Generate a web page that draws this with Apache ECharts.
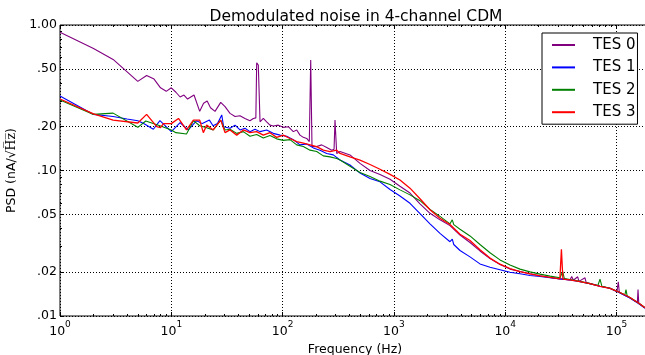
<!DOCTYPE html>
<html>
<head>
<meta charset="utf-8">
<title>Demodulated noise in 4-channel CDM</title>
<style>
  html, body { margin: 0; padding: 0; background: #fff; }
  #chart { width: 645px; height: 355px; }
</style>
<script src="https://cdn.jsdelivr.net/npm/echarts@6.0.0/dist/echarts.min.js"></script>
</head>
<body>
<div id="chart"></div>
<script>
// [frequency Hz, PSD nA/rtHz]
const tes0 = [
  [1, 0.89], [2, 0.69], [3, 0.58], [5, 0.41], [6, 0.45], [7, 0.425], [8, 0.37], [9, 0.35], [10, 0.37],
  [11, 0.345], [12, 0.32], [13, 0.33], [14, 0.31], [16, 0.33], [18, 0.255], [19.5, 0.29], [21, 0.3],
  [22.5, 0.27], [24.7, 0.255], [27.8, 0.294], [30.4, 0.275], [33.7, 0.247], [37.4, 0.235], [41.4, 0.238],
  [45.9, 0.228], [50.9, 0.22], [54.6, 0.228], [57.5, 0.23], [58.5, 0.55], [60.5, 0.53], [62.7, 0.216],
  [67.1, 0.228], [71.9, 0.216], [77, 0.205], [82.5, 0.202], [91.5, 0.205], [101.5, 0.198], [112.5, 0.2],
  [124.8, 0.185], [133.9, 0.19], [143.3, 0.175], [153.5, 0.169], [164.7, 0.166], [173.8, 0.158],
  [178.9, 0.575], [183.7, 0.146], [202.5, 0.146], [224.6, 0.15], [249, 0.144], [276.3, 0.138], [290, 0.14],
  [295.7, 0.222], [306.3, 0.131], [328, 0.135], [403, 0.128], [496, 0.112], [610, 0.1], [750, 0.094],
  [923, 0.087], [1134, 0.078], [1395, 0.07], [1716, 0.059], [2110, 0.0508], [2596, 0.0458], [3192, 0.0418],
  [3926, 0.036], [4828, 0.032], [5937, 0.028], [7302, 0.0248], [8981, 0.0226], [11045, 0.021],
  [13584, 0.0202], [16706, 0.0195], [20546, 0.0189], [25268, 0.0184], [31075, 0.018], [38218, 0.0177],
  [39580, 0.0187], [41000, 0.0176], [44806, 0.0186], [46000, 0.0173], [52124, 0.0183], [53500, 0.0169],
  [57800, 0.0167], [71100, 0.016], [87400, 0.0155], [101000, 0.0147], [103800, 0.0172], [106000, 0.0145],
  [132200, 0.0133], [154000, 0.0124], [156100, 0.0152], [158500, 0.0122], [180400, 0.0114]
];
const tes1 = [
  [1, 0.325], [2, 0.243], [3, 0.235], [4, 0.226], [5, 0.22], [5.6, 0.211], [6.9, 0.192], [7.9, 0.22],
  [10, 0.185], [12, 0.213], [14.2, 0.19], [16.9, 0.22], [19, 0.21], [22, 0.222], [23.7, 0.203], [26, 0.21],
  [28.4, 0.241], [29.5, 0.2], [33.7, 0.195], [37.4, 0.205], [41.4, 0.19], [45.9, 0.195], [50.9, 0.185],
  [56.5, 0.192], [62.7, 0.185], [71.9, 0.19], [82.5, 0.18], [94.8, 0.175], [108.8, 0.172], [124.8, 0.163],
  [143.3, 0.15], [164.7, 0.152], [188.7, 0.143], [216.8, 0.138], [249, 0.131], [285.5, 0.128], [328, 0.118],
  [403, 0.109], [496, 0.096], [610, 0.088], [750, 0.0836], [923, 0.074], [1134, 0.0668], [1395, 0.0595],
  [1716, 0.0505], [2110, 0.043], [2596, 0.037], [3192, 0.0324], [3347, 0.0338], [3450, 0.031],
  [3926, 0.0282], [4828, 0.0255], [5937, 0.0228], [7302, 0.0216], [8981, 0.0208], [11045, 0.02],
  [13584, 0.0195], [16706, 0.019], [20546, 0.0187], [25268, 0.0183], [31075, 0.018], [38218, 0.0177],
  [46990, 0.0172], [57800, 0.0167], [71100, 0.016], [87400, 0.0155], [107500, 0.0144], [132200, 0.0133],
  [162600, 0.012], [180400, 0.0113]
];
const tes2 = [
  [1, 0.305], [2, 0.243], [3, 0.248], [5, 0.198], [5.9, 0.219], [7.9, 0.203], [10, 0.19], [11, 0.182],
  [13.7, 0.178], [15.8, 0.22], [18, 0.203], [20.8, 0.197], [23.8, 0.19], [27.8, 0.222], [30.4, 0.19],
  [33.7, 0.192], [38.7, 0.18], [44.4, 0.185], [50.9, 0.172], [58.5, 0.177], [67.1, 0.167], [77, 0.174],
  [88.5, 0.165], [101.5, 0.161], [116.6, 0.163], [133.9, 0.15], [153.5, 0.146], [176.3, 0.138],
  [202.5, 0.135], [232.1, 0.126], [266.7, 0.124], [306.3, 0.121], [328, 0.118], [403, 0.107], [496, 0.097],
  [610, 0.091], [750, 0.0845], [923, 0.08], [1134, 0.0736], [1395, 0.068], [1716, 0.062], [2110, 0.054],
  [2596, 0.0484], [3192, 0.043], [3347, 0.0458], [3450, 0.0425], [3926, 0.0395], [4828, 0.0355],
  [5937, 0.031], [7302, 0.0272], [8981, 0.0243], [11045, 0.0224], [13584, 0.021], [16706, 0.0201],
  [20546, 0.0194], [25268, 0.0188], [31075, 0.0183], [32860, 0.0202], [34000, 0.0181], [38218, 0.0178],
  [46990, 0.0173], [57800, 0.0167], [68000, 0.0162], [71100, 0.0179], [74000, 0.016], [87400, 0.0155],
  [107500, 0.0145], [119000, 0.014], [121700, 0.0152], [124500, 0.0138], [132200, 0.0134],
  [162600, 0.0121], [180400, 0.0114]
];
const tes3 = [
  [1, 0.31], [2, 0.245], [3, 0.222], [5, 0.212], [6, 0.243], [7.4, 0.2], [8, 0.197], [8.5, 0.21], [10, 0.21],
  [11.6, 0.228], [13.7, 0.19], [15.8, 0.222], [18, 0.222], [19.4, 0.182], [20.8, 0.205], [23.8, 0.19],
  [27.8, 0.222], [30.4, 0.182], [33.7, 0.19], [38.7, 0.175], [44.4, 0.19], [50.9, 0.182], [58.5, 0.185],
  [67.1, 0.175], [77, 0.182], [88.5, 0.169], [101.5, 0.175], [116.6, 0.166], [133.9, 0.158], [153.5, 0.154],
  [176.3, 0.15], [202.5, 0.146], [232.1, 0.138], [266.7, 0.135], [306.3, 0.138], [328, 0.131], [403, 0.124],
  [496, 0.118], [610, 0.11], [750, 0.102], [923, 0.094], [1134, 0.086], [1395, 0.0756], [1716, 0.064],
  [2110, 0.0537], [2596, 0.047], [3192, 0.0425], [3926, 0.0365], [4828, 0.033], [5937, 0.0285],
  [7302, 0.025], [8981, 0.0227], [11045, 0.0212], [13584, 0.0202], [16706, 0.0195], [20546, 0.0189],
  [25268, 0.0184], [31000, 0.018], [32000, 0.0287], [33000, 0.0179], [38218, 0.0177], [46990, 0.0172],
  [57800, 0.0167], [71100, 0.016], [87400, 0.0155], [107500, 0.0145], [132200, 0.0134], [162600, 0.0121],
  [180400, 0.0114]
];

const names = ['TES 0', 'TES 1', 'TES 2', 'TES 3'];
const colors = ['#800080', '#0000ff', '#008000', '#ff0000'];

const xMajor = [1, 10, 100, 1000, 10000, 100000];
const xMinor = [];
xMajor.forEach((d) => [2, 3, 4, 5, 6, 7, 8, 9].forEach((m) => xMinor.push(d * m)));
const yMajor = [0.01, 0.02, 0.05, 0.1, 0.2, 0.5, 1];
const yMinor = [0.03, 0.04, 0.06, 0.07, 0.08, 0.09, 0.3, 0.4, 0.6, 0.7, 0.8, 0.9];

const font = 'DejaVu Sans';
const black = '#000';

function tickStyle(ticks, length) {
  return {show: true, inside: true, length, customValues: ticks, lineStyle: {color: black, width: 1}};
}

function xAxis(position, ticks, length, main) {
  return {
    type: 'log',
    logBase: 10,
    min: 1,
    max: 200000,
    position,
    axisLine: {show: false, onZero: false},
    axisTick: tickStyle(ticks, length),
    minorTick: {show: false},
    axisLabel: main
      ? {
          customValues: xMajor,
          margin: 4,
          formatter: (v) => '{b|10}{s|' + Math.round(Math.log10(v)) + '}',
          rich: {
            b: {fontFamily: font, fontSize: 12.5, color: black, lineHeight: 18, verticalAlign: 'bottom'},
            s: {fontFamily: font, fontSize: 9, color: black, lineHeight: 10, verticalAlign: 'top'},
          },
        }
      : {show: false},
    splitLine: main ? {show: true, lineStyle: {color: black, width: 1, type: [1, 2]}} : {show: false},
    name: main ? 'Frequency (Hz)' : '',
    nameLocation: 'middle',
    nameGap: 22,
    nameTextStyle: {fontFamily: font, fontSize: 12.5, color: black},
  };
}

function yAxis(position, ticks, length, main) {
  return {
    type: 'log',
    logBase: 10,
    min: 0.01,
    max: 1,
    position,
    axisLine: {show: false, onZero: false},
    axisTick: tickStyle(ticks, length),
    minorTick: {show: false},
    axisLabel: main
      ? {
          customValues: yMajor,
          margin: 3,
          fontFamily: font,
          fontSize: 12.5,
          color: black,
          formatter: (v) => {
            const s = Number(v).toFixed(2);
            return s.startsWith('0') ? s.slice(1) : s;
          },
        }
      : {show: false},
    splitLine: main ? {show: true, lineStyle: {color: black, width: 1, type: [1, 2]}} : {show: false},
    name: main ? 'PSD (nA/{r|√H\u0305z\u0305})' : '',
    nameLocation: 'middle',
    nameRotate: 90,
    nameGap: 38,
    nameTextStyle: {
      fontFamily: font,
      fontSize: 12.5,
      color: black,
      rich: {r: {fontFamily: 'DejaVu Serif', fontSize: 12.5, color: black}},
    },
  };
}

const chart = echarts.init(document.getElementById('chart'), null, {renderer: 'canvas'});
const option = {
  animation: false,
  backgroundColor: '#fff',
  textStyle: {fontFamily: font},
  title: {
    text: 'Demodulated noise in 4-channel CDM',
    left: 351,
    textAlign: 'center',
    top: 4,
    textStyle: {fontFamily: font, fontSize: 15.5, fontWeight: 'normal', color: black},
  },
  grid: {
    left: 60,
    top: 25,
    right: -5,
    bottom: 39,
    show: true,
    borderColor: black,
    borderWidth: 1,
    backgroundColor: 'transparent',
    containLabel: false,
    outerBoundsMode: 'none',
  },
  legend: {
    orient: 'vertical',
    left: 542,
    top: 33,
    backgroundColor: '#fff',
    borderColor: black,
    borderWidth: 1,
    borderRadius: 0,
    padding: [3, 2, 3, 10],
    itemGap: 4.4,
    itemWidth: 23,
    itemHeight: 2,
    icon: 'rect',
    textStyle: {fontFamily: font, fontSize: 15, color: black, lineHeight: 18, padding: [0, 0, 0, 13]},
    data: names,
  },
  xAxis: [
    xAxis('bottom', xMajor, 4, true),
    xAxis('top', xMajor, 4, false),
    xAxis('bottom', xMinor, 2, false),
    xAxis('top', xMinor, 2, false),
  ],
  yAxis: [
    yAxis('left', yMajor, 4, true),
    yAxis('right', yMajor, 4, false),
    yAxis('left', yMinor, 2, false),
    yAxis('right', yMinor, 2, false),
  ],
  series: [tes0, tes1, tes2, tes3].map((data, i) => ({
    name: names[i],
    type: 'line',
    data,
    xAxisIndex: 0,
    yAxisIndex: 0,
    symbol: 'none',
    showSymbol: false,
    clip: true,
    lineStyle: {color: colors[i], width: i === 3 ? 1.3 : 1.1},
    itemStyle: {color: colors[i]},
    z: 2 + i,
  })),
};
chart.setOption(option);
</script>
</body>
</html>
